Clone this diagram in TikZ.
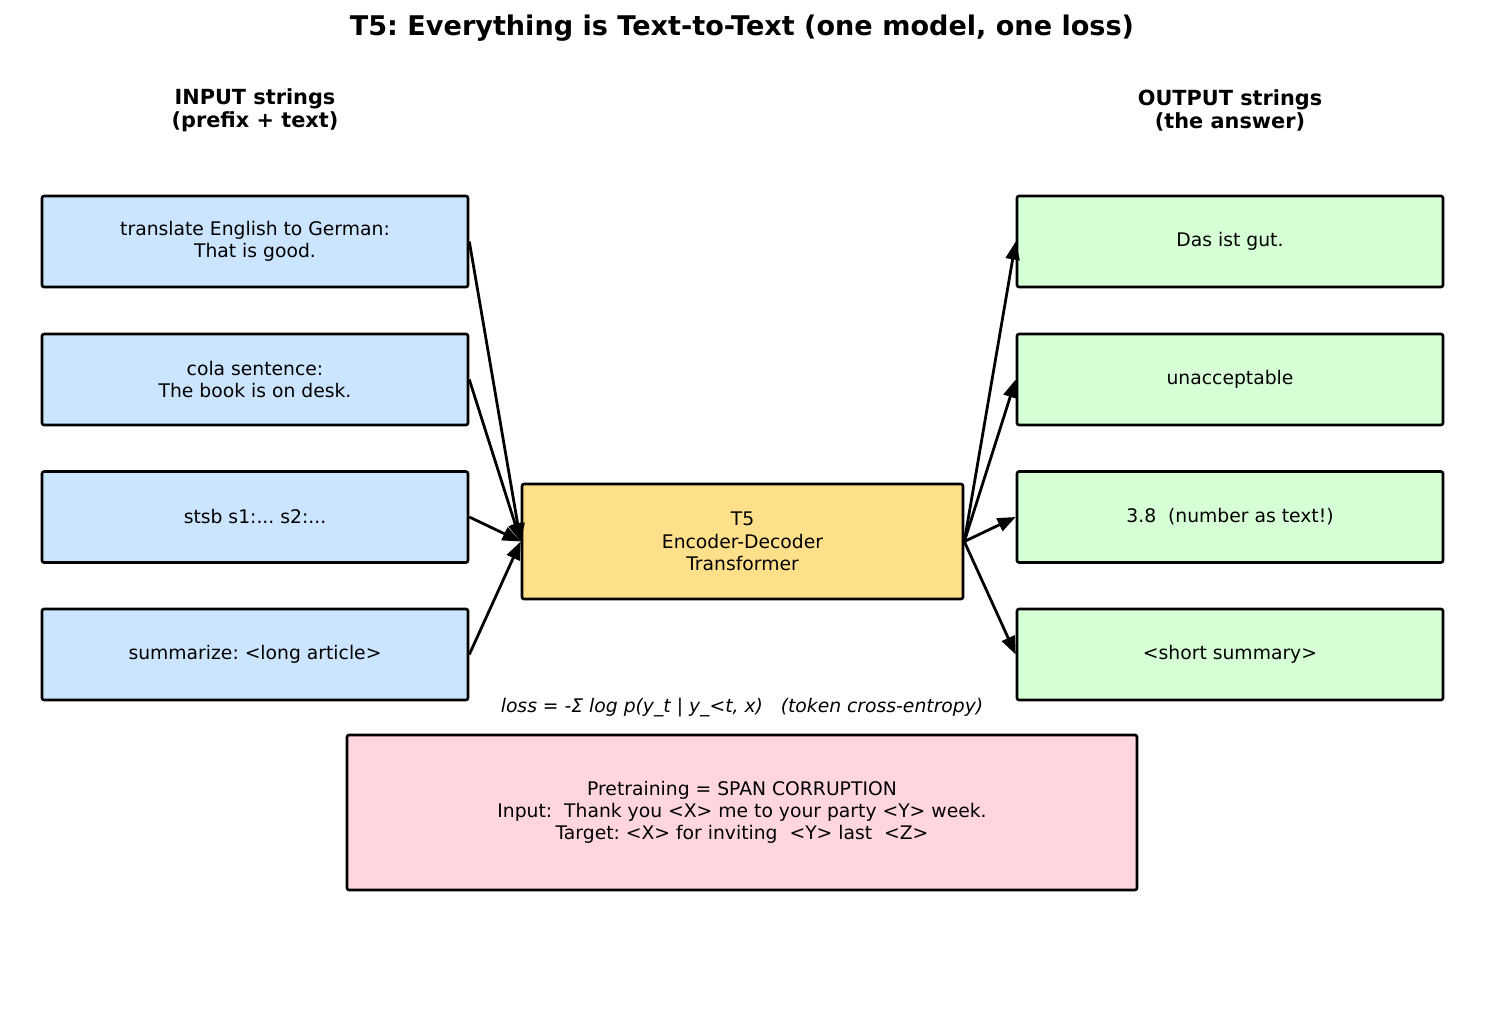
\documentclass[tikz,border=0pt]{standalone}
\usepackage{fontspec}
\setmainfont{DejaVu Sans}
\usetikzlibrary{arrows.meta,positioning}
\frenchspacing

\begin{document}
\begin{tikzpicture}[x=0.72pt,y=-0.72pt]

  \tikzset{in node/.style={rectangle, draw, line width=1.9pt, rounded corners=1.5pt,
  		fill=inblue, minimum width=306.7pt, minimum height=65.5pt,
  		text centered, align=center, font=\fontsize{13.5}{16}\selectfont}, }
  \tikzset{out node/.style={in node, fill=outgreen}, }
  \tikzset{model node/.style={in node, fill=modelyellow,
  		minimum width=317.5pt, minimum height=82.8pt}, }
  \tikzset{pre node/.style={in node, fill=prepink,
  		minimum width=568.8pt, minimum height=111.6pt}, }
  \tikzset{head node/.style={align=center, font=\fontsize{15}{16.6}\selectfont\bfseries}, }
  \tikzset{linea/.style={-{Triangle[length=13pt,width=10pt]}, line width=2pt}, }
  \definecolor{inblue}{RGB}{204,229,255}
  \definecolor{outgreen}{RGB}{214,255,214}
  \definecolor{modelyellow}{RGB}{255,224,138}
  \definecolor{prepink}{RGB}{255,214,224}

\useasboundingbox (0,0) rectangle (1485,1034);

\node[font=\fontsize{19.5}{22}\selectfont\bfseries, anchor=base] (title) at (742,35)
  {T5: Everything is Text-to-Text (one model, one loss)};
\node[head node] (inhead)  at (255,110)  {INPUT strings\\(prefix + text)};
\node[head node] (outhead) at (1230,110) {OUTPUT strings\\(the answer)};

\node[in node] (i1) at (255,241.5) {translate English to German:\\That is good.};
\node[in node] (i2) at (255,379.5) {cola sentence:\\The book is on desk.};
\node[in node] (i3) at (255,517)   {stsb s1:... s2:...};
\node[in node] (i4) at (255,654.5) {summarize: <long article>};

\node[out node] (o1) at (1230,241.5) {Das ist gut.};
\node[out node] (o2) at (1230,379.5) {unacceptable};
\node[out node] (o3) at (1230,517)   {3.8\ \ (number as text!)};
\node[out node] (o4) at (1230,654.5) {<short summary>};

\node[model node] (t5) at (742.5,541.5) {T5\\Encoder-Decoder\\Transformer};

\node[font=\fontsize{13.5}{16}\selectfont\itshape] (loss) at (742,708)
  {loss = -Σ log p(y\_t | y\_<t, x)\ \ \ (token cross-entropy)};
\node[pre node] (pre) at (742,812.5)
  {Pretraining = SPAN CORRUPTION\\Input:\ \ Thank you <X> me to your party <Y> week.\\Target: <X> for inviting\ \ <Y> last\ \ <Z>};

\foreach \x in {i1,i2,i3,i4}
  \draw[linea] (\x.east) -- (t5.west);
\foreach \y in {o1,o2,o3,o4}
  \draw[linea] (t5.east) -- (\y.west);
%%
\end{tikzpicture}
\end{document}
